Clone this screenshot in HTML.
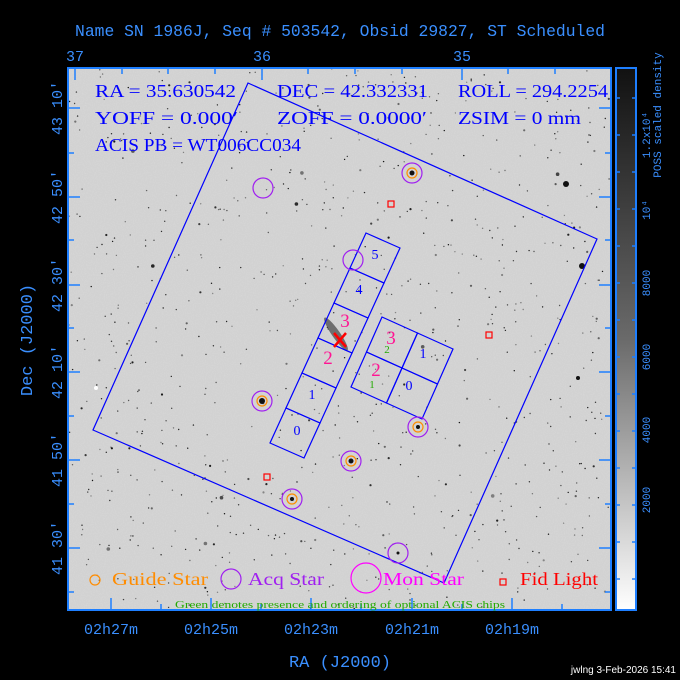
<!DOCTYPE html>
<html><head><meta charset="utf-8"><style>
html,body{margin:0;padding:0;background:#000;}
svg{display:block}
</style></head><body>
<svg id="s" width="680" height="680" viewBox="0 0 680 680" xmlns="http://www.w3.org/2000/svg">
<defs>
<linearGradient id="cb" x1="0" y1="0" x2="0" y2="1">
<stop offset="0" stop-color="#111"/><stop offset="0.5" stop-color="#6a6a6a"/><stop offset="1" stop-color="#fff"/>
</linearGradient>
<filter id="noise" x="0" y="0" width="100%" height="100%">
<feTurbulence type="fractalNoise" baseFrequency="0.9" numOctaves="1" seed="3"/>
<feColorMatrix type="matrix" values="0 0 0 0 0.8  0 0 0 0 0.8  0 0 0 0 0.8  -1.2 0 0 0 0.65"/>
</filter>
<clipPath id="pc"><rect x="68" y="68" width="543" height="542"/></clipPath>
</defs>
<rect width="680" height="680" fill="#000"/>
<text x="75" y="36" fill="#3a8fff" font-family="Liberation Mono, monospace" font-size="17" textLength="530" lengthAdjust="spacingAndGlyphs">Name SN 1986J, Seq # 503542, Obsid 29827, ST Scheduled</text>
<g clip-path="url(#pc)">
<rect x="68" y="68" width="543" height="542" fill="#d2d2d2"/>
<rect x="68" y="68" width="543" height="542" filter="url(#noise)" opacity="0.55"/>
<g id="stars" fill="#111"></g>
<ellipse cx="336" cy="334" rx="4" ry="20" fill="#555" transform="rotate(-35 336 334)" opacity="0.8"/>
</g>
<rect x="68" y="68" width="543" height="542" fill="none" stroke="#1e7fff" stroke-width="2"/>
<rect x="616" y="68" width="20" height="542" fill="url(#cb)" stroke="#1e7fff" stroke-width="2"/>
<g stroke="#1e7fff" stroke-width="1.5" id="cbt"></g>
<g fill="#3a8fff" font-family="Liberation Mono, monospace" font-size="11">
<text transform="translate(650,500) rotate(-90)" text-anchor="middle">2000</text>
<text transform="translate(650,430) rotate(-90)" text-anchor="middle">4000</text>
<text transform="translate(650,357) rotate(-90)" text-anchor="middle">6000</text>
<text transform="translate(650,283) rotate(-90)" text-anchor="middle">8000</text>
<text transform="translate(650,210) rotate(-90)" text-anchor="middle">10⁴</text>
<text transform="translate(650,135) rotate(-90)" text-anchor="middle">1.2x10⁴</text>
<text transform="translate(661,115) rotate(-90)" text-anchor="middle">POSS scaled density</text>
</g>
<g stroke="#1e7fff" stroke-width="1.5" id="ax"></g>
<g fill="#3a8fff" font-family="Liberation Mono, monospace" font-size="15">
<text x="75" y="61" text-anchor="middle">37</text>
<text x="262" y="61" text-anchor="middle">36</text>
<text x="462" y="61" text-anchor="middle">35</text>
<text x="111" y="634" text-anchor="middle">02h27m</text>
<text x="211" y="634" text-anchor="middle">02h25m</text>
<text x="311" y="634" text-anchor="middle">02h23m</text>
<text x="412" y="634" text-anchor="middle">02h21m</text>
<text x="512" y="634" text-anchor="middle">02h19m</text>
<text transform="translate(62,108) rotate(-90)" text-anchor="middle">43 10′</text>
<text transform="translate(62,197) rotate(-90)" text-anchor="middle">42 50′</text>
<text transform="translate(62,285) rotate(-90)" text-anchor="middle">42 30′</text>
<text transform="translate(62,372) rotate(-90)" text-anchor="middle">42 10′</text>
<text transform="translate(62,460) rotate(-90)" text-anchor="middle">41 50′</text>
<text transform="translate(62,548) rotate(-90)" text-anchor="middle">41 30′</text>
<text x="340" y="667" text-anchor="middle" font-size="17">RA (J2000)</text>
<text transform="translate(32,340) rotate(-90)" text-anchor="middle" font-size="17">Dec (J2000)</text>
</g>
<text x="676" y="673" fill="#fff" font-family="Liberation Sans, sans-serif" font-size="10" text-anchor="end">jwlng  3-Feb-2026 15:41</text>
<g fill="#0000ff" font-family="Liberation Serif, serif" font-size="18" xml:space="preserve" lengthAdjust="spacingAndGlyphs">
<text x="95" y="97" textLength="141" lengthAdjust="spacingAndGlyphs">RA = 35.630542</text>
<text x="277" y="97" textLength="151" lengthAdjust="spacingAndGlyphs">DEC = 42.332331</text>
<text x="458" y="97" textLength="150" lengthAdjust="spacingAndGlyphs">ROLL = 294.2254</text>
<text x="95" y="124" textLength="143" lengthAdjust="spacingAndGlyphs">YOFF =   0.000′</text>
<text x="277" y="124" textLength="150" lengthAdjust="spacingAndGlyphs">ZOFF =  0.0000′</text>
<text x="458" y="124" textLength="123" lengthAdjust="spacingAndGlyphs">ZSIM = 0 mm</text>
<text x="95" y="151" textLength="206" lengthAdjust="spacingAndGlyphs">ACIS PB = WT006CC034</text>
</g>
<g fill="none" stroke="#0000ff" stroke-width="1.2" id="chips">
<polygon points="248,83 597,239 444,583 93,430"/>
</g>
<g fill="none" stroke="#a020f0" stroke-width="1.2">
<circle cx="263" cy="188" r="10"/><circle cx="412" cy="173" r="10"/><circle cx="353" cy="260" r="10"/>
<circle cx="262" cy="401" r="10"/><circle cx="418" cy="427" r="10"/><circle cx="351" cy="461" r="10"/>
<circle cx="292" cy="499" r="10"/><circle cx="398" cy="553" r="10"/>
</g>
<g fill="none" stroke="#ff8c00" stroke-width="1.2">
<circle cx="412" cy="173" r="5"/><circle cx="262" cy="401" r="5"/><circle cx="418" cy="427" r="5"/>
<circle cx="351" cy="461" r="5"/><circle cx="292" cy="499" r="5"/>
</g>
<g fill="#111"><circle cx="412" cy="173" r="2.5"/><circle cx="262" cy="401" r="3"/><circle cx="418" cy="427" r="2"/><circle cx="351" cy="461" r="2.5"/><circle cx="292" cy="499" r="2"/><circle cx="398" cy="553" r="1.5"/></g>
<g fill="none" stroke="#ff0000" stroke-width="1.2">
<rect x="388" y="201" width="6" height="6"/><rect x="486" y="332" width="6" height="6"/><rect x="264" y="474" width="6" height="6"/>
<path d="M334,333 L346,347 M346,333 L334,347" stroke-width="2.5"/>
</g>
<g font-family="Liberation Serif, serif" text-anchor="middle">
<text x="375" y="259" fill="#0000ff" font-size="14">5</text>
<text x="359" y="294" fill="#0000ff" font-size="14">4</text>
<text x="345" y="327" fill="#ff1493" font-size="19">3</text>
<text x="328" y="364" fill="#ff1493" font-size="19">2</text>
<text x="312" y="399" fill="#0000ff" font-size="14">1</text>
<text x="297" y="435" fill="#0000ff" font-size="14">0</text>
<text x="391" y="344" fill="#ff1493" font-size="19">3</text>
<text x="387" y="353" fill="#22aa00" font-size="11">2</text>
<text x="423" y="358" fill="#0000ff" font-size="14">1</text>
<text x="376" y="376" fill="#ff1493" font-size="19">2</text>
<text x="372" y="388" fill="#22aa00" font-size="11">1</text>
<text x="409" y="390" fill="#0000ff" font-size="14">0</text>
</g>
<circle cx="95" cy="580" r="5" fill="none" stroke="#ff8c00" stroke-width="1.2"/>
<circle cx="231" cy="579" r="10" fill="none" stroke="#a020f0" stroke-width="1.2"/>
<circle cx="366" cy="578" r="15" fill="none" stroke="#ff00ff" stroke-width="1.2"/>
<rect x="500" y="579" width="6" height="6" fill="none" stroke="#ff0000" stroke-width="1.2"/>
<g font-family="Liberation Serif, serif" font-size="18">
<text x="112" y="585" fill="#ff8c00" textLength="96" lengthAdjust="spacingAndGlyphs">Guide Star</text>
<text x="248" y="585" fill="#a020f0" textLength="76" lengthAdjust="spacingAndGlyphs">Acq Star</text>
<text x="383" y="585" fill="#ff00ff" textLength="81" lengthAdjust="spacingAndGlyphs">Mon Star</text>
<text x="520" y="585" fill="#ff0000" textLength="78" lengthAdjust="spacingAndGlyphs">Fid Light</text>
</g>
<text x="175" y="608" fill="#22aa00" font-family="Liberation Serif, serif" font-size="11" textLength="330" lengthAdjust="spacingAndGlyphs">Green denotes presence and ordering of optional ACIS chips</text>
</svg>
<script>
(function(){
var NS="http://www.w3.org/2000/svg";
function el(p,t,a){var e=document.createElementNS(NS,t);for(var k in a)e.setAttribute(k,a[k]);p.appendChild(e);return e;}
var seed=12345;function r(){seed=(seed*1103515245+12345)%2147483648;return seed/2147483648;}
var st=document.getElementById('stars');
for(var i=0;i<900;i++){var x=68+r()*543,y=68+r()*542,s=r();var rad=s<0.92?0.7:(s<0.99?1.1:1.8);el(st,'circle',{cx:x.toFixed(1),cy:y.toFixed(1),r:rad,'fill-opacity':(0.4+0.6*r()).toFixed(2)});}
[[566,184,3],[582,266,3],[578,378,2]].forEach(function(p){el(st,'circle',{cx:p[0],cy:p[1],r:p[2]});});
el(st,'circle',{cx:96,cy:388,r:2,fill:'#fff'});
var ax=document.getElementById('ax');
function ln(g,x1,y1,x2,y2){el(g,'line',{x1:x1,y1:y1,x2:x2,y2:y2});}
[108,197,285,372,460,548].forEach(function(y){ln(ax,68,y,80,y);ln(ax,611,y,599,y);});
[153,240,328,416,504,592].forEach(function(y){ln(ax,68,y,74,y);ln(ax,611,y,605,y);});
[111,211,311,412,512].forEach(function(x){ln(ax,x,610,x,598);});
[161,261,361,462,562].forEach(function(x){ln(ax,x,610,x,604);});
[75,262,462].forEach(function(x){ln(ax,x,68,x,80);});
[122,168,215,308,355,402,508,555].forEach(function(x){ln(ax,x,68,x,74);});
var cbt=document.getElementById('cbt');
for(var y=98;y<610;y+=37){ln(cbt,616,y,620,y);ln(cbt,636,y,632,y);}
var ch=document.getElementById('chips');
function poly(pts){el(ch,'polygon',{points:pts.map(function(p){return p[0].toFixed(1)+','+p[1].toFixed(1)}).join(' ')});}
var A=[366,233],B=[400,248],D=[-96,210];
for(var k=0;k<6;k++){var f0=k/6,f1=(k+1)/6;
poly([[A[0]+D[0]*f0,A[1]+D[1]*f0],[B[0]+D[0]*f0,B[1]+D[1]*f0],[B[0]+D[0]*f1,B[1]+D[1]*f1],[A[0]+D[0]*f1,A[1]+D[1]*f1]]);}
var T=[382,317],U=[71,32],V=[-31,70];
function P(u,v){return [T[0]+U[0]*u+V[0]*v,T[1]+U[1]*u+V[1]*v];}
for(var i=0;i<2;i++)for(var j=0;j<2;j++){
var a=i/2,b=(i+1)/2,c=j/2,d=(j+1)/2;
poly([P(a,c),P(b,c),P(b,d),P(a,d)]);}
})();
</script>
</body></html>
